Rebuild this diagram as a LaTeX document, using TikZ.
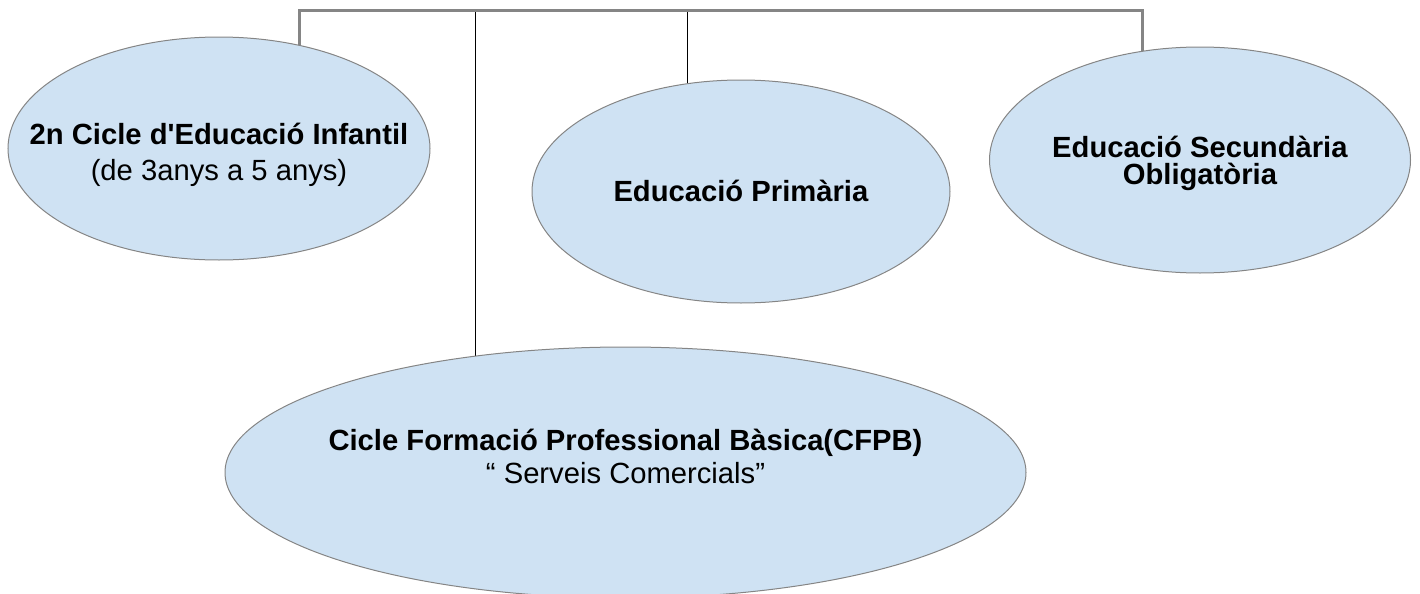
\documentclass[tikz,border=0pt]{standalone}
\usepackage{fontspec}
\setmainfont{Liberation Sans}
\usetikzlibrary{shapes.geometric,backgrounds}
\definecolor{cellblue}{HTML}{CFE2F3}
\definecolor{bargray}{HTML}{858585}
\lineskiplimit=-20pt

\begin{document}
\begin{tikzpicture}[x=0.5pt, y=-0.5pt,
        level/.style={shape=ellipse, draw=bargray, fill=cellblue, line width=0.5pt, inner sep=0pt},
        leveltext/.style={align=center, font=\fontsize{14.6}{#1}\selectfont},
        bar/.style={draw=bargray, line width=1.5pt},
        thinline/.style={draw=black, line width=0.5pt}]
            \useasboundingbox (0,0) rectangle (1420,594);

            \node[level, minimum width=211pt, minimum height=111.5pt] (E1) at (219,148.5) {};
            \node[level, minimum width=209pt, minimum height=111.5pt] (E2) at (741,191.5) {};
            \node[level, minimum width=210.5pt, minimum height=113pt] (E3) at (1200,160) {};
            \node[level, minimum width=400.5pt, minimum height=125.5pt] (E4) at (625.5,472.5) {};

            \node[leveltext=18] (T1) at (E1.center) [yshift=-3pt] {\textbf{2n Cicle d\textquotesingle Educació Infantil}\\(de 3anys a 5 anys)};
            \node[leveltext=13.5] (T2) at (E2.center) [yshift=0.5pt] {\textbf{Educació Primària}};
            \node[leveltext=13.5] (T3) at (E3.center) [yshift=-1.5pt] {\textbf{Educació Secundària}\\\textbf{Obligatòria}};
            \node[leveltext=16.5] (T4) at (E4.center) [yshift=8pt] {\textbf{Cicle Formació Professional Bàsica(CFPB)}\\“ Serveis Comercials”};

            \coordinate (L) at (299,10);
            \coordinate (R) at (1142.5,10);
            \coordinate (F) at (475,10);
            \coordinate (P) at (687,10);

            \begin{pgfonlayer}{background}
                \path[thinline] (F) edge (F |- E4.center);
                \path[thinline] (P) edge (P |- E2.center);
                \draw[bar] (L |- E1.center) -- (L) -- (R) -- (R |- E3.center);
            \end{pgfonlayer}
\end{tikzpicture}
\end{document}
